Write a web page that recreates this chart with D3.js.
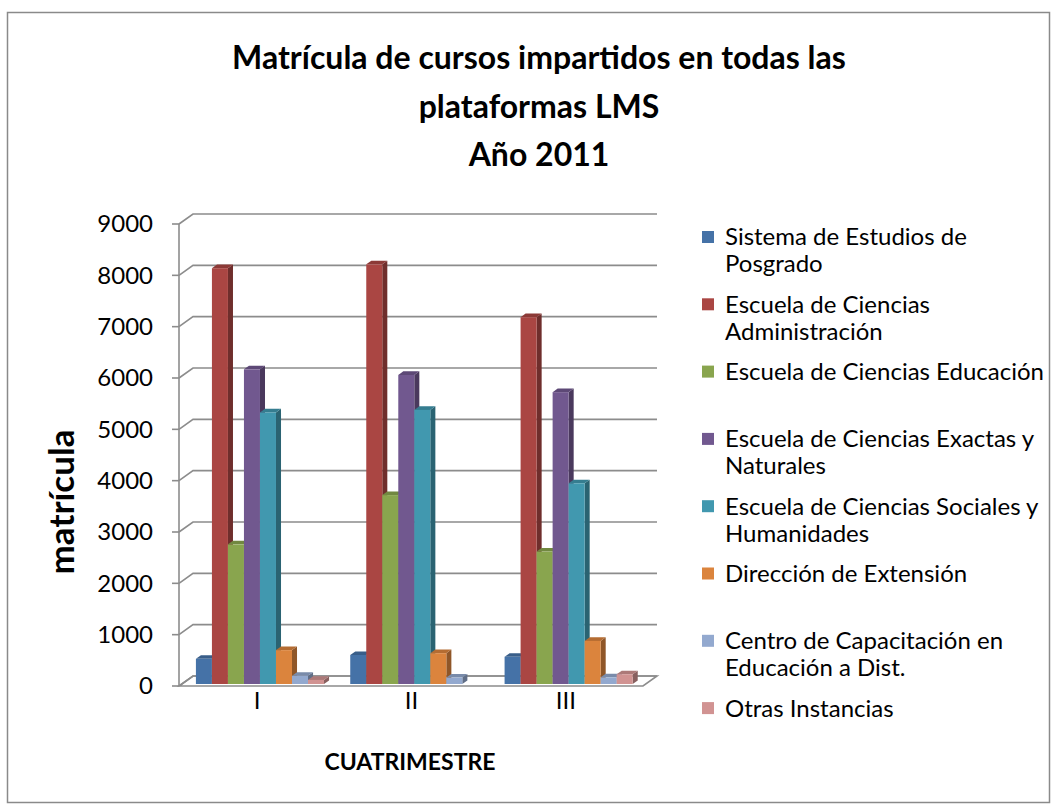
<!DOCTYPE html>
<html>
<head>
<meta charset="utf-8">
<script src="https://cdn.jsdelivr.net/npm/d3@7"></script>
<style>
  body { margin: 0; background: #fff; }
  text { font-family: Lato, "Open Sans", sans-serif; fill: #000; }
</style>
</head>
<body>
<div id="chart"></div>
<script>
// datos
const cuatrimestres = ["I", "II", "III"];
const instancias = [
    "Sistema de Estudios de\nPosgrado",
    "Escuela de Ciencias\nAdministración",
    "Escuela de Ciencias Educación",
    "Escuela de Ciencias Exactas y\nNaturales",
    "Escuela de Ciencias Sociales y\nHumanidades",
    "Dirección de Extensión",
    "Centro de Capacitación en\nEducación a Dist.",
    "Otras Instancias"
];
// matrícula por instancia, un valor por cuatrimestre (I, II, III)
const sistemaPosgrado = [490, 565, 530];
const ecAdministracion = [8100, 8175, 7145];
const ecEducacion = [2720, 3680, 2580];
const ecExactas = [6130, 6020, 5685];
const ecSociales = [5290, 5340, 3910];
const extension = [660, 600, 840];
const centroCapacitacion = [160, 125, 130];
const otras = [80, 0, 190];
const yTicks = [0, 1000, 2000, 3000, 4000, 5000, 6000, 7000, 8000, 9000];
const colores = ["#4572A7", "#AA4643", "#89A54E", "#71588F", "#4198AF", "#DB843D", "#93A9CF", "#D19392"];

const series = [sistemaPosgrado, ecAdministracion, ecEducacion, ecExactas,
    ecSociales, extension, centroCapacitacion, otras];

const config = {
    width: 1057,
    height: 810,
    plot: { left: 179, right: 643, top: 224, bottom: 686 },
    depth: { x: 14, y: -10 },      // profundidad del "piso" 3D
    barFront: 0.2, barBack: 0.56,  // posición de las barras dentro de la profundidad
    gridColor: "#8c8c8c"
};

const svg = d3.select("#chart").append("svg")
    .attr("width", config.width)
    .attr("height", config.height);

// marco exterior
svg.append("rect")
    .attr("x", 7.5).attr("y", 12.5)
    .attr("width", 1042).attr("height", 790)
    .attr("fill", "#fff")
    .attr("stroke", "#8a8a8a")
    .attr("stroke-width", 1.5);

// título
const titulo = svg.append("text")
    .attr("text-anchor", "middle")
    .attr("font-weight", "bold")
    .attr("font-size", 32);
["Matrícula de cursos impartidos en todas las", "plataformas LMS", "Año 2011"].forEach((t, i) => {
    titulo.append("tspan").attr("x", 539).attr("y", 69 + i * 48.5).text(t);
});

const p = config.plot;
const D = config.depth;

const y = d3.scaleLinear().domain([0, 9000]).range([p.bottom, p.top]);
const x0 = d3.scaleBand().domain(cuatrimestres).range([p.left + 1, p.right]).padding(0);
const gap = x0.bandwidth() * 0.085;
const x1 = d3.scaleBand().domain(d3.range(instancias.length))
    .range([gap, x0.bandwidth() - gap]).padding(0);

// piso
const g = svg.append("g");
g.append("path")
    .attr("d", `M${p.left},${p.bottom} L${p.right},${p.bottom} L${p.right + D.x},${p.bottom + D.y} L${p.left + D.x},${p.bottom + D.y} Z`)
    .attr("fill", "none")
    .attr("stroke", config.gridColor)
    .attr("stroke-width", 1.6);

// líneas de cuadrícula (pared lateral + pared trasera)
g.append("g").selectAll("path")
    .data(yTicks)
    .enter()
    .append("path")
    .attr("fill", "none")
    .attr("stroke", config.gridColor)
    .attr("stroke-width", 1.6)
    .attr("d", d => `M${p.left},${y(d)} L${p.left + D.x},${y(d) + D.y} L${p.right + D.x},${y(d) + D.y}`);

// eje vertical y marcas
g.append("line")
    .attr("x1", p.left).attr("x2", p.left)
    .attr("y1", y(0)).attr("y2", y(9000))
    .attr("stroke", config.gridColor).attr("stroke-width", 1.6);
g.append("g").selectAll("line")
    .data(yTicks)
    .enter()
    .append("line")
    .attr("x1", p.left - 7).attr("x2", p.left)
    .attr("y1", d => y(d)).attr("y2", d => y(d))
    .attr("stroke", config.gridColor).attr("stroke-width", 1.6);

// etiquetas eje Y
svg.append("g").selectAll("text")
    .data(yTicks)
    .enter()
    .append("text")
    .attr("x", 153)
    .attr("y", d => y(d))
    .attr("dy", "0.35em")
    .attr("text-anchor", "end")
    .attr("font-size", 24)
    .text(d => d);

svg.append("text")
    .attr("transform", "translate(74,502) rotate(-90)")
    .attr("text-anchor", "middle")
    .attr("font-weight", "bold")
    .attr("font-size", 35)
    .text("matrícula");

// barras 3D
const f0 = config.barFront, f1 = config.barBack;
const dd = { x: D.x * (f1 - f0), y: D.y * (f1 - f0) };
const bars = [];
cuatrimestres.forEach((c, ci) => {
    series.forEach((vals, si) => {
        bars.push({ c, si, v: vals[ci] });
    });
});

g.append("g").selectAll("g")
    .data(bars.filter(d => d.v > 0))
    .enter()
    .append("g")
    .each(function (d) {
        const w = x1.bandwidth();
        const bx = x0(d.c) + x1(d.si) + D.x * f0;
        const yTop = y(d.v) + D.y * f0;
        const yBot = y(0) + D.y * f0;
        const col = d3.rgb(colores[d.si]);
        const sel = d3.select(this);
        // lado derecho
        sel.append("path")
            .attr("d", `M${bx + w},${yTop} L${bx + w + dd.x},${yTop + dd.y} L${bx + w + dd.x},${yBot + dd.y} L${bx + w},${yBot} Z`)
            .attr("fill", col.darker(1.2));
        // tapa
        sel.append("path")
            .attr("d", `M${bx},${yTop} L${bx + dd.x},${yTop + dd.y} L${bx + w + dd.x},${yTop + dd.y} L${bx + w},${yTop} Z`)
            .attr("fill", col.darker(0.55));
        // frente
        sel.append("rect")
            .attr("x", bx).attr("y", yTop)
            .attr("width", w).attr("height", yBot - yTop)
            .attr("fill", col);
    });

// etiquetas eje X
svg.append("g").selectAll("text")
    .data(cuatrimestres)
    .enter()
    .append("text")
    .attr("x", d => x0(d) + x0.bandwidth() / 2)
    .attr("y", 701)
    .attr("dy", "0.35em")
    .attr("text-anchor", "middle")
    .attr("font-size", 24)
    .text(d => d);

svg.append("text")
    .attr("x", 410).attr("y", 762)
    .attr("dy", "0.35em")
    .attr("text-anchor", "middle")
    .attr("font-weight", "bold")
    .attr("font-size", 23)
    .text("CUATRIMESTRE");

// leyenda
const leyenda = svg.append("g").selectAll("g")
    .data(instancias)
    .enter()
    .append("g")
    .attr("transform", (d, i) => `translate(702,${237 + i * 67.3})`);

leyenda.append("rect")
    .attr("x", 0).attr("y", -6)
    .attr("width", 12).attr("height", 12)
    .attr("fill", (d, i) => colores[i]);

leyenda.append("text")
    .attr("font-size", 24)
    .each(function (d) {
        d.split("\n").forEach((line, k) => {
            d3.select(this).append("tspan")
                .attr("x", 23)
                .attr("y", k * 27)
                .attr("dy", "0.35em")
                .text(line);
        });
    });
</script>
</body>
</html>
